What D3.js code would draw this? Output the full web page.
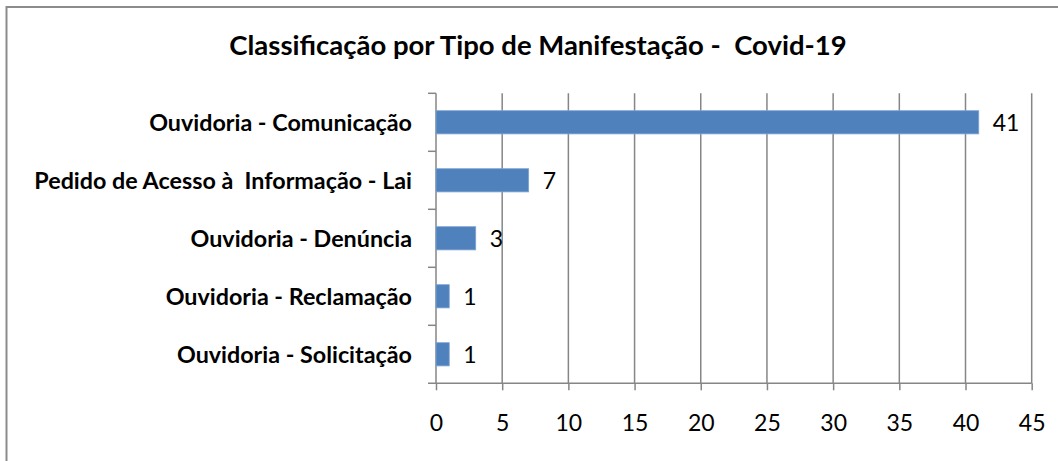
<!DOCTYPE html>
<html lang="pt">
<head>
<meta charset="UTF-8">
<title>Classificação por Tipo de Manifestação - Covid-19</title>
<script src="https://d3js.org/d3.v7.min.js"></script>
<style>
  body { margin: 0; background: #fff; }
  svg text { font-family: Lato, "Open Sans", sans-serif; fill: #000; white-space: pre; }
</style>
</head>
<body>
<div id="chart"></div>
<script>
// Data (top to bottom)
const categories = [
  "Ouvidoria - Comunicação",
  "Pedido de Acesso à  Informação - Lai",
  "Ouvidoria - Denúncia",
  "Ouvidoria - Reclamação",
  "Ouvidoria - Solicitação"
];
const values = [41, 7, 3, 1, 1];
const xTicks = [0, 5, 10, 15, 20, 25, 30, 35, 40, 45];
const title = "Classificação por Tipo de Manifestação -  Covid-19";

const width = 1058, height = 461;
const plot = { left: 436, right: 1031.7, top: 93.3, bottom: 383.3 };
const gridColor = "#868686";

const svg = d3.select("#chart").append("svg")
  .attr("width", width).attr("height", height);

// outer chart border
svg.append("rect")
  .attr("x", 6.5).attr("y", 7)
  .attr("width", width + 20).attr("height", height + 20)
  .attr("fill", "none").attr("stroke", "#8c8c8c").attr("stroke-width", 2);

svg.append("text")
  .attr("x", 538).attr("y", 55)
  .attr("text-anchor", "middle")
  .attr("font-size", 27.5).attr("font-weight", "bold")
  .text(title);

const x = d3.scaleLinear().domain([0, 45]).range([plot.left, plot.right]);
const y = d3.scaleBand().domain(categories).range([plot.top, plot.bottom]).padding(0);

// vertical gridlines
svg.append("g").selectAll("line")
  .data(xTicks.filter(d => d > 0))
  .join("line")
  .attr("x1", d => x(d)).attr("x2", d => x(d))
  .attr("y1", plot.top).attr("y2", plot.bottom)
  .attr("stroke", gridColor).attr("stroke-width", 1.5);

// x axis
const xAxis = svg.append("g")
  .attr("transform", `translate(0,${plot.bottom})`)
  .call(d3.axisBottom(x).tickValues(xTicks).tickSize(7).tickPadding(24).tickSizeOuter(0));
xAxis.select(".domain").remove();
xAxis.append("line")
  .attr("x1", plot.left - 8).attr("x2", plot.right)
  .attr("stroke", gridColor).attr("stroke-width", 1.5);
xAxis.selectAll(".tick line").attr("stroke", gridColor).attr("stroke-width", 1.5);
xAxis.selectAll(".tick text")
  .attr("font-size", 23).attr("font-family", "Lato, sans-serif").attr("fill", "#000");

// y axis: line + tick marks at band boundaries
const yAxis = svg.append("g");
yAxis.append("line")
  .attr("x1", plot.left).attr("x2", plot.left)
  .attr("y1", plot.top).attr("y2", plot.bottom)
  .attr("stroke", gridColor).attr("stroke-width", 1.5);
yAxis.selectAll("line.tk")
  .data(categories)
  .join("line").attr("class", "tk")
  .attr("x1", plot.left - 8).attr("x2", plot.left)
  .attr("y1", d => y(d)).attr("y2", d => y(d))
  .attr("stroke", gridColor).attr("stroke-width", 1.5);

// category labels
svg.append("g").selectAll("text")
  .data(categories)
  .join("text")
  .attr("x", plot.left - 24)
  .attr("y", d => y(d) + y.bandwidth() / 2)
  .attr("dy", "0.36em")
  .attr("text-anchor", "end")
  .attr("font-size", 23.3).attr("font-weight", "bold")
  .text(d => d);

// bars
const barH = y.bandwidth() * 0.4;
svg.append("g").selectAll("rect")
  .data(categories)
  .join("rect")
  .attr("x", x(0))
  .attr("y", d => y(d) + (y.bandwidth() - barH) / 2)
  .attr("width", (d, i) => x(values[i]) - x(0))
  .attr("height", barH)
  .attr("fill", "#4F81BD")
  .attr("stroke", "#7EA3D3").attr("stroke-width", 0.8);

// value labels
svg.append("g").selectAll("text")
  .data(categories)
  .join("text")
  .attr("x", (d, i) => x(values[i]) + 14)
  .attr("y", d => y(d) + y.bandwidth() / 2)
  .attr("dy", "0.36em")
  .attr("font-size", 23)
  .text((d, i) => values[i]);
</script>
</body>
</html>
